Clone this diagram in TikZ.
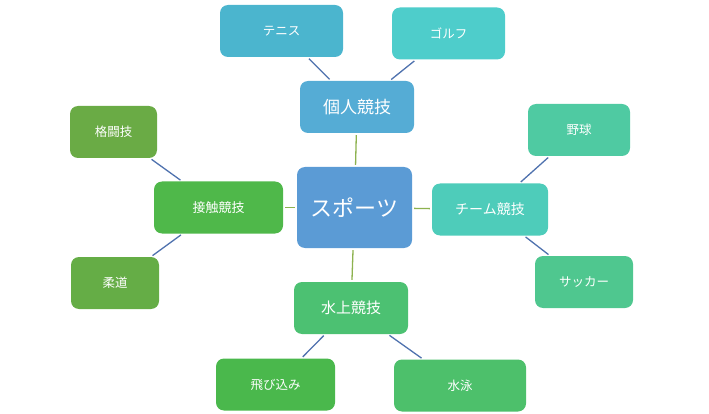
\documentclass[tikz,border=0pt]{standalone}
\usepackage{fontspec}
\newfontfamily\jpfont{Noto Sans CJK JP}
\definecolor{cSport}{HTML}{5B9BD5}
\definecolor{cKojin}{HTML}{55ACD5}
\definecolor{cTeam}{HTML}{4ECCBA}
\definecolor{cSuijo}{HTML}{4CC172}
\definecolor{cSesshoku}{HTML}{4FB84A}
\definecolor{cTennis}{HTML}{4BB5CE}
\definecolor{cGolf}{HTML}{4ECDCB}
\definecolor{cYakyu}{HTML}{4FCAA2}
\definecolor{cSoccer}{HTML}{4FC78F}
\definecolor{cTobikomi}{HTML}{4AB84C}
\definecolor{cSuiei}{HTML}{4DC06B}
\definecolor{cKakutogi}{HTML}{6AAB45}
\definecolor{cJudo}{HTML}{65AD46}
\definecolor{cMainLine}{HTML}{8DB24F}
\definecolor{cSubLine}{HTML}{4F72AE}
\begin{document}
\begin{tikzpicture}[x=1pt, y=-1pt, box style/.style={rectangle, rounded corners=8pt, text=white, inner sep=0pt, minimum height=52pt, font=\jpfont\fontsize{12.5}{15}\selectfont}, link style/.style={line width=1.3pt, shorten >=2pt, shorten <=2pt}]
	\useasboundingbox (0,0) rectangle (709,414);
	\node[box style, fill=cSport, minimum width=115pt, minimum height=81pt, font=\jpfont\fontsize{22}{26}\selectfont] (S0) at (354.5,207.5) {スポーツ};
	\node[box style, fill=cKojin, minimum width=114pt, font=\jpfont\fontsize{17}{20}\selectfont] (G1) at (357,107) {個人競技};
	\node[box style, fill=cTeam, minimum width=116pt, font=\jpfont\fontsize{14}{17}\selectfont] (G2) at (490,209.5) {チーム競技};
	\node[box style, fill=cSuijo, minimum width=114pt, font=\jpfont\fontsize{15}{18}\selectfont] (G3) at (351,308) {水上競技};
	\node[box style, fill=cSesshoku, minimum width=129pt, font=\jpfont\fontsize{13}{16}\selectfont] (G4) at (218.5,207.5) {接触競技};
	\node[box style, fill=cTennis, minimum width=123pt] (L1) at (281.5,31) {テニス};
	\node[box style, fill=cGolf, minimum width=113pt] (L2) at (448.5,33.5) {ゴルフ};
	\node[box style, fill=cYakyu, minimum width=102pt] (L3) at (579,130) {野球};
	\node[box style, fill=cSoccer, minimum width=98pt] (L4) at (584,282) {サッカー};
	\node[box style, fill=cTobikomi, minimum width=119pt] (L5) at (275.5,384.5) {飛び込み};
	\node[box style, fill=cSuiei, minimum width=132pt] (L6) at (460,385.5) {水泳};
	\node[box style, fill=cKakutogi, minimum width=87pt] (L7) at (113.5,132) {格闘技};
	\node[box style, fill=cJudo, minimum width=88pt] (L8) at (115,283) {柔道};
	\foreach \x in {1,...,4}
	\draw[link style, cMainLine] (S0) -- (G\x);
	\foreach \g/\l in {1/1,1/2,2/3,2/4,3/5,3/6,4/7,4/8}
	\draw[link style, cSubLine] (G\g) -- (L\l);
\end{tikzpicture}
\end{document}
